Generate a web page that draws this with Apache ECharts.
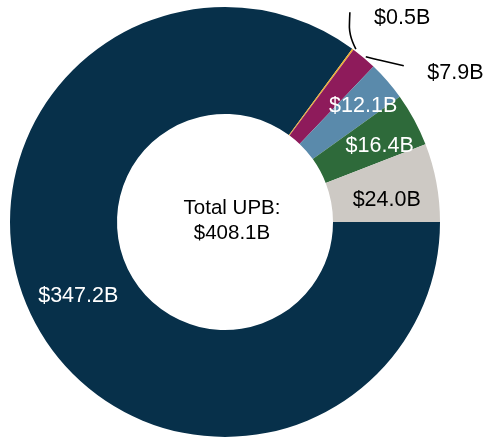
<!DOCTYPE html>
<html>
<head>
<meta charset="utf-8">
<style>
  html, body { margin: 0; padding: 0; background: #ffffff; }
  #chart { width: 483px; height: 438px; }
</style>
<script src="https://cdn.jsdelivr.net/npm/echarts@6/dist/echarts.min.js"></script>
</head>
<body>
<div id="chart"></div>
<script>
// UPB by segment, in $ billions
const categories = ['Segment A', 'Segment B', 'Segment C', 'Segment D', 'Segment E', 'Segment F'];
const values = [347.2, 0.5, 7.9, 12.1, 16.4, 24.0];
const labels = ['$347.2B', '$0.5B', '$7.9B', '$12.1B', '$16.4B', '$24.0B'];
const colors = ['#07304a', '#eeb02e', '#8e1b5b', '#5a8aab', '#2e6a3a', '#cdc9c4'];
const labelColors = ['#ffffff', '#000000', '#000000', '#ffffff', '#ffffff', '#000000'];
const outsideIdx = [1, 2];
const totalText = 'Total UPB:\n$408.1B';

const font = '"Liberation Sans", Arial, sans-serif';

// per-slice label nudges [dx, dy]
const labelShift = { 1: [-12, -4], 2: [20, 18], 3: [14, -8], 4: [10, 2], 5: [0, 8] };
// leader line bends, relative to the point where the line leaves the slice
const leaderBends = {
  1: [[3, 0], [-4, -14], [-3, -37]],
  2: [[2, -1], [14, 2], [40, 8]]
};

const data = values.map((v, i) => {
  const outside = outsideIdx.includes(i);
  return {
    name: categories[i],
    value: v,
    itemStyle: { color: colors[i] },
    label: {
      show: true,
      position: outside ? 'outside' : 'inside',
      formatter: labels[i],
      color: labelColors[i],
      fontSize: 21.5,
      fontFamily: font
    },
    labelLine: {
      show: outside,
      smooth: 0.4,
      length: i === 1 ? 34 : 4,
      length2: i === 1 ? 8 : 36,
      lineStyle: { color: '#000000', width: 1.6 }
    }
  };
});

const chart = echarts.init(document.getElementById('chart'), null, { renderer: 'canvas' });
chart.setOption({
  animation: false,
  title: {
    text: totalText,
    left: 227,
    top: 191,
    textAlign: 'center',
    textStyle: {
      fontFamily: font,
      fontSize: 20.5,
      fontWeight: 'normal',
      color: '#000000',
      lineHeight: 25
    }
  },
  series: [{
    type: 'pie',
    center: [225, 222],
    radius: [108, 215],
    startAngle: 0,
    clockwise: true,
    avoidLabelOverlap: false,
    emphasis: { disabled: true },
    data: data,
    labelLayout: function (p) {
      const s = labelShift[p.dataIndex];
      const out = s ? { dx: s[0], dy: s[1] } : {};
      const bends = leaderBends[p.dataIndex];
      if (bends && p.labelLinePoints) {
        const p0 = p.labelLinePoints[0];
        out.labelLinePoints = bends.map(b => [p0[0] + b[0], p0[1] + b[1]]);
      }
      return out;
    }
  }]
});
</script>
</body>
</html>
